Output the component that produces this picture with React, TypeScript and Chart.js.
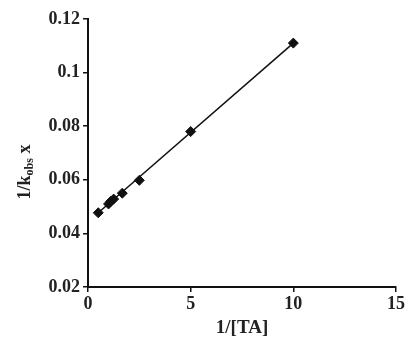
import React, { useEffect, useRef } from "react";
import { Chart, registerables } from "chart.js";

Chart.register(...registerables);

const invTA = [0.5, 1.0, 1.11, 1.25, 1.67, 2.5, 5, 10];
const invKobs = [0.0477, 0.051, 0.052, 0.0528, 0.055, 0.0598, 0.078, 0.111];
const fitX = [0.5, 10];
const fitY = [0.0477, 0.111];
const xTicks = [0, 5, 10, 15];
const yTicks = [0.02, 0.04, 0.06, 0.08, 0.1, 0.12];

const FONT = "'Liberation Serif', 'Times New Roman', serif";

const yTitlePlugin = {
  id: "yTitle",
  afterDraw(chart: any) {
    const { ctx } = chart;
    ctx.save();
    ctx.translate(24, 172);
    ctx.rotate(-Math.PI / 2);
    ctx.fillStyle = "#222";
    ctx.textBaseline = "alphabetic";
    const main = `bold 18px ${FONT}`;
    const sub = `bold 12px ${FONT}`;
    const parts: [string, string, number][] = [
      ["1/k", main, 0],
      ["obs", sub, 3],
      [" x", main, 0],
    ];
    let total = 0;
    for (const [t, f] of parts) {
      ctx.font = f;
      total += ctx.measureText(t).width;
    }
    let x = -total / 2;
    for (const [t, f, dy] of parts) {
      ctx.font = f;
      ctx.fillText(t, x, 6 + dy);
      x += ctx.measureText(t).width;
    }
    ctx.restore();
  },
};

export default function App() {
  const ref = useRef<HTMLCanvasElement>(null);
  useEffect(() => {
    document.body.style.margin = "0";
    const chart = new Chart(ref.current!, {
      type: "scatter",
      data: {
        datasets: [
          {
            label: "fit",
            data: fitX.map((x, i) => ({ x, y: fitY[i] })),
            showLine: true,
            borderColor: "#111",
            borderWidth: 1.5,
            pointRadius: 0,
          },
          {
            label: "data",
            data: invTA.map((x, i) => ({ x, y: invKobs[i] })),
            pointStyle: "rectRot",
            pointRadius: 5,
            backgroundColor: "#111",
            borderColor: "#111",
            borderWidth: 1,
          },
        ],
      },
      options: {
        animation: false,
        responsive: false,
        layout: { padding: { left: 0, right: 9, top: 19, bottom: 0 } },
        plugins: { legend: { display: false }, tooltip: { enabled: false } },
        scales: {
          x: {
            type: "linear",
            min: 0,
            max: 15,
            afterBuildTicks: (s: any) => {
              s.ticks = xTicks.map((v) => ({ value: v }));
            },
            afterFit: (s: any) => {
              s.height = 53;
            },
            ticks: {
              color: "#222",
              font: { family: FONT, size: 18, weight: "bold" },
              padding: 2,
              maxRotation: 0,
            },
            grid: {
              display: true,
              drawOnChartArea: false,
              drawTicks: true,
              tickLength: 5,
              color: "#111",
              lineWidth: 1.5,
            },
            border: { display: true, color: "#111", width: 2 },
            title: {
              display: true,
              text: "1/[TA]",
              color: "#222",
              font: { family: FONT, size: 19, weight: "bold" },
              padding: { top: 2, bottom: 1 },
            },
          },
          y: {
            type: "linear",
            min: 0.02,
            max: 0.12,
            afterBuildTicks: (s: any) => {
              s.ticks = yTicks.map((v) => ({ value: v }));
            },
            afterFit: (s: any) => {
              s.width = 88;
            },
            ticks: {
              color: "#222",
              font: { family: FONT, size: 18, weight: "bold" },
              padding: 3,
              callback: (v: any) => String(Number(Number(v).toFixed(2))),
            },
            grid: {
              display: true,
              drawOnChartArea: false,
              drawTicks: true,
              tickLength: 5,
              color: "#111",
              lineWidth: 1.5,
            },
            border: { display: true, color: "#111", width: 2 },
          },
        },
      },
      plugins: [yTitlePlugin],
    });
    return () => chart.destroy();
  }, []);
  return (
    <div style={{ position: "fixed", left: 0, top: 0, width: 407, height: 340, background: "#fff" }}>
      <canvas ref={ref} width={407} height={340} />
    </div>
  );
}
